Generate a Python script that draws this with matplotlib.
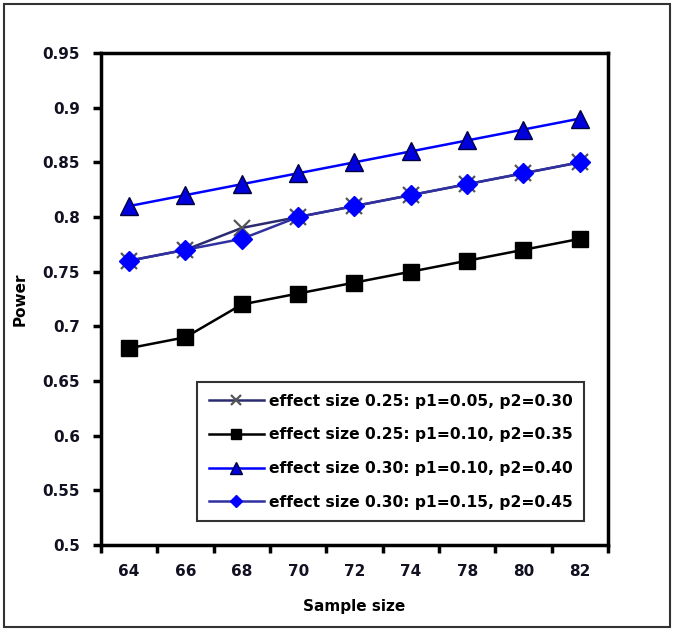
import matplotlib
matplotlib.use("Agg")
import matplotlib.pyplot as plt
from matplotlib.patches import Rectangle

categories = ["64", "66", "68", "70", "72", "74", "78", "80", "82"]
s1 = [0.76, 0.77, 0.79, 0.80, 0.81, 0.82, 0.83, 0.84, 0.85]
s2 = [0.68, 0.69, 0.72, 0.73, 0.74, 0.75, 0.76, 0.77, 0.78]
s3 = [0.81, 0.82, 0.83, 0.84, 0.85, 0.86, 0.87, 0.88, 0.89]
s4 = [0.76, 0.77, 0.78, 0.80, 0.81, 0.82, 0.83, 0.84, 0.85]
labels = ["effect size 0.25: p1=0.05, p2=0.30",
          "effect size 0.25: p1=0.10, p2=0.35",
          "effect size 0.30: p1=0.10, p2=0.40",
          "effect size 0.30: p1=0.15, p2=0.45"]
yticks = [0.5, 0.55, 0.6, 0.65, 0.7, 0.75, 0.8, 0.85, 0.9, 0.95]
ytick_labels = ["0.5", "0.55", "0.6", "0.65", "0.7", "0.75", "0.8", "0.85", "0.9", "0.95"]

plt.rcParams['font.family'] = ['DejaVu Sans']
FS = 11
LFS = 11.2

fig = plt.figure(figsize=(6.75, 6.33), dpi=100)
ax = fig.add_axes([0.1496, 0.139, 0.9007 - 0.1496, 0.9163 - 0.139])

x = list(range(len(categories)))
ax.plot(x, s1, color='#2b2b6e', lw=1.8, marker='x', ms=11, mew=1.6,
        mec='#555555', label=labels[0], zorder=3)
ax.plot(x, s2, color='black', lw=1.8, marker='s', ms=11, mfc='black',
        mec='black', label=labels[1], zorder=3)
ax.plot(x, s3, color='#0000ff', lw=1.8, marker='^', ms=13, mfc='#0000dd',
        mec='#000040', mew=1.0, label=labels[2], zorder=3)
ax.plot(x, s4, color='#3030a0', lw=1.8, marker='D', ms=10, mfc='#0000ff',
        mec='#0000ff', label=labels[3], zorder=4)

ax.set_xlim(-0.5, len(categories) - 0.5)
ax.set_ylim(0.5, 0.95)
ax.set_yticks(yticks)
ax.set_yticklabels(ytick_labels, fontsize=FS, fontweight='bold', color='#111122')
ax.set_xticks(x)
ax.set_xticklabels(categories, fontsize=FS, fontweight='bold', color='#111122')
ax.set_xticks([i - 0.5 for i in range(len(categories) + 1)], minor=True)
ax.tick_params(axis='x', which='major', length=0, pad=14)
ax.tick_params(axis='x', which='minor', length=6, width=2.5, direction='out')
ax.tick_params(axis='y', length=6, width=2.5, direction='out', pad=9)
for sp in ax.spines.values():
    sp.set_linewidth(2.5)

ax.set_xlabel("Sample size", fontsize=FS, fontweight='bold')
ax.xaxis.set_label_coords(0.5, -0.11)
ax.set_ylabel("Power", fontsize=FS, fontweight='bold')
ax.yaxis.set_label_coords(-0.144, 0.5)

leg = ax.legend(loc='lower right', bbox_to_anchor=(0.953, 0.048), frameon=True,
                fancybox=False, edgecolor='black', prop={'weight': 'bold', 'size': LFS},
                handlelength=3.55, handletextpad=0.3, labelspacing=1.2,
                borderpad=0.75, borderaxespad=0, markerscale=0.65)
leg.get_frame().set_linewidth(1.5)

fig.patches.append(Rectangle((4 / 675, 1 - 627 / 633), 666 / 675, 623 / 633,
                             transform=fig.transFigure, fill=False,
                             edgecolor='#333333', lw=1.5))

fig.savefig("out.png", dpi=100)
